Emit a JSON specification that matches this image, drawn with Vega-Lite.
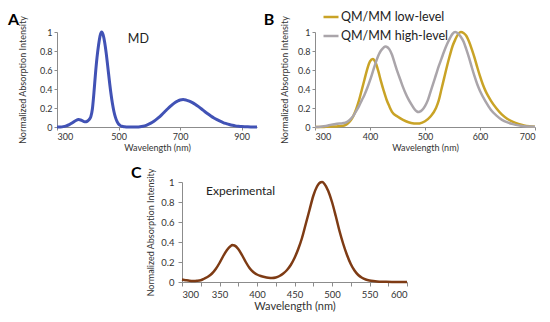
{
  "$schema": "https://vega.github.io/schema/vega-lite/v6.json",
  "background": "white",
  "padding": {"left": 8, "top": 8, "right": 4, "bottom": 4},
  "config": {
    "font": "Lato",
    "view": {"stroke": null},
    "axis": {"domainColor": "#8c8c8c", "tickColor": "#8c8c8c", "grid": false, "labelColor": "#333333", "titleColor": "#333333", "labelFont": "Lato", "titleFont": "Lato", "titleFontWeight": "normal", "tickSize": 3, "labelFontSize": 9, "titleFontSize": 9, "labelOverlap": false}
  },
  "datasets": {
    "md": [
      {"wl":300,"v":0},{"wl":310,"v":0.001},{"wl":320,"v":0.004},{"wl":330,"v":0.012},{"wl":340,"v":0.025},{"wl":350,"v":0.045},{"wl":360,"v":0.066},{"wl":370,"v":0.078},{"wl":380,"v":0.07},{"wl":390,"v":0.055},{"wl":395,"v":0.056},{"wl":400,"v":0.065},{"wl":405,"v":0.08},{"wl":410,"v":0.11},{"wl":415,"v":0.19},{"wl":420,"v":0.36},{"wl":425,"v":0.56},{"wl":430,"v":0.73},{"wl":435,"v":0.86},{"wl":440,"v":0.96},{"wl":445,"v":1.0},{"wl":450,"v":0.97},{"wl":455,"v":0.89},{"wl":460,"v":0.775},{"wl":465,"v":0.636},{"wl":470,"v":0.492},{"wl":475,"v":0.36},{"wl":480,"v":0.249},{"wl":485,"v":0.163},{"wl":490,"v":0.101},{"wl":495,"v":0.059},{"wl":500,"v":0.032},{"wl":505,"v":0.017},{"wl":510,"v":0.008},{"wl":520,"v":0.002},{"wl":530,"v":0},{"wl":540,"v":0},{"wl":550,"v":0},{"wl":560,"v":0},{"wl":570,"v":0.002},{"wl":580,"v":0.008},{"wl":590,"v":0.018},{"wl":600,"v":0.032},{"wl":610,"v":0.05},{"wl":620,"v":0.072},{"wl":630,"v":0.098},{"wl":640,"v":0.128},{"wl":650,"v":0.16},{"wl":660,"v":0.192},{"wl":670,"v":0.222},{"wl":680,"v":0.249},{"wl":690,"v":0.27},{"wl":700,"v":0.285},{"wl":710,"v":0.289},{"wl":720,"v":0.283},{"wl":730,"v":0.272},{"wl":740,"v":0.257},{"wl":750,"v":0.237},{"wl":760,"v":0.214},{"wl":770,"v":0.189},{"wl":780,"v":0.163},{"wl":790,"v":0.139},{"wl":800,"v":0.116},{"wl":810,"v":0.095},{"wl":820,"v":0.077},{"wl":830,"v":0.061},{"wl":840,"v":0.047},{"wl":850,"v":0.036},{"wl":860,"v":0.026},{"wl":870,"v":0.018},{"wl":880,"v":0.012},{"wl":890,"v":0.008},{"wl":900,"v":0.005},{"wl":910,"v":0.003},{"wl":920,"v":0.002},{"wl":930,"v":0.001},{"wl":940,"v":0},{"wl":950,"v":0}
    ],
    "qmmm": [
      {"level":"QM/MM low-level","wl":300,"v":0},{"level":"QM/MM low-level","wl":310,"v":0},{"level":"QM/MM low-level","wl":320,"v":0.002},{"level":"QM/MM low-level","wl":330,"v":0.004},{"level":"QM/MM low-level","wl":340,"v":0.006},{"level":"QM/MM low-level","wl":350,"v":0.012},{"level":"QM/MM low-level","wl":355,"v":0.02},{"level":"QM/MM low-level","wl":360,"v":0.04},{"level":"QM/MM low-level","wl":365,"v":0.07},{"level":"QM/MM low-level","wl":370,"v":0.12},{"level":"QM/MM low-level","wl":375,"v":0.19},{"level":"QM/MM low-level","wl":380,"v":0.28},{"level":"QM/MM low-level","wl":385,"v":0.39},{"level":"QM/MM low-level","wl":390,"v":0.5},{"level":"QM/MM low-level","wl":395,"v":0.61},{"level":"QM/MM low-level","wl":400,"v":0.69},{"level":"QM/MM low-level","wl":405,"v":0.715},{"level":"QM/MM low-level","wl":410,"v":0.68},{"level":"QM/MM low-level","wl":415,"v":0.59},{"level":"QM/MM low-level","wl":420,"v":0.48},{"level":"QM/MM low-level","wl":425,"v":0.38},{"level":"QM/MM low-level","wl":430,"v":0.29},{"level":"QM/MM low-level","wl":435,"v":0.22},{"level":"QM/MM low-level","wl":440,"v":0.16},{"level":"QM/MM low-level","wl":450,"v":0.11},{"level":"QM/MM low-level","wl":460,"v":0.075},{"level":"QM/MM low-level","wl":470,"v":0.05},{"level":"QM/MM low-level","wl":480,"v":0.038},{"level":"QM/MM low-level","wl":485,"v":0.036},{"level":"QM/MM low-level","wl":490,"v":0.038},{"level":"QM/MM low-level","wl":500,"v":0.06},{"level":"QM/MM low-level","wl":510,"v":0.11},{"level":"QM/MM low-level","wl":520,"v":0.2},{"level":"QM/MM low-level","wl":525,"v":0.28},{"level":"QM/MM low-level","wl":530,"v":0.4},{"level":"QM/MM low-level","wl":535,"v":0.52},{"level":"QM/MM low-level","wl":540,"v":0.64},{"level":"QM/MM low-level","wl":545,"v":0.75},{"level":"QM/MM low-level","wl":550,"v":0.85},{"level":"QM/MM low-level","wl":555,"v":0.92},{"level":"QM/MM low-level","wl":560,"v":0.975},{"level":"QM/MM low-level","wl":565,"v":1.0},{"level":"QM/MM low-level","wl":570,"v":0.99},{"level":"QM/MM low-level","wl":575,"v":0.96},{"level":"QM/MM low-level","wl":580,"v":0.9},{"level":"QM/MM low-level","wl":585,"v":0.82},{"level":"QM/MM low-level","wl":590,"v":0.73},{"level":"QM/MM low-level","wl":595,"v":0.63},{"level":"QM/MM low-level","wl":600,"v":0.535},{"level":"QM/MM low-level","wl":605,"v":0.45},{"level":"QM/MM low-level","wl":610,"v":0.38},{"level":"QM/MM low-level","wl":615,"v":0.325},{"level":"QM/MM low-level","wl":620,"v":0.275},{"level":"QM/MM low-level","wl":630,"v":0.195},{"level":"QM/MM low-level","wl":640,"v":0.13},{"level":"QM/MM low-level","wl":650,"v":0.085},{"level":"QM/MM low-level","wl":660,"v":0.055},{"level":"QM/MM low-level","wl":670,"v":0.033},{"level":"QM/MM low-level","wl":680,"v":0.017},{"level":"QM/MM low-level","wl":690,"v":0.008},{"level":"QM/MM low-level","wl":700,"v":0.003},
      {"level":"QM/MM high-level","wl":300,"v":0},{"level":"QM/MM high-level","wl":310,"v":0.003},{"level":"QM/MM high-level","wl":320,"v":0.01},{"level":"QM/MM high-level","wl":330,"v":0.025},{"level":"QM/MM high-level","wl":340,"v":0.035},{"level":"QM/MM high-level","wl":350,"v":0.04},{"level":"QM/MM high-level","wl":355,"v":0.045},{"level":"QM/MM high-level","wl":360,"v":0.06},{"level":"QM/MM high-level","wl":365,"v":0.085},{"level":"QM/MM high-level","wl":370,"v":0.12},{"level":"QM/MM high-level","wl":375,"v":0.17},{"level":"QM/MM high-level","wl":380,"v":0.22},{"level":"QM/MM high-level","wl":385,"v":0.28},{"level":"QM/MM high-level","wl":390,"v":0.34},{"level":"QM/MM high-level","wl":395,"v":0.41},{"level":"QM/MM high-level","wl":400,"v":0.49},{"level":"QM/MM high-level","wl":405,"v":0.58},{"level":"QM/MM high-level","wl":410,"v":0.67},{"level":"QM/MM high-level","wl":415,"v":0.75},{"level":"QM/MM high-level","wl":420,"v":0.805},{"level":"QM/MM high-level","wl":425,"v":0.838},{"level":"QM/MM high-level","wl":428,"v":0.847},{"level":"QM/MM high-level","wl":430,"v":0.845},{"level":"QM/MM high-level","wl":435,"v":0.82},{"level":"QM/MM high-level","wl":440,"v":0.76},{"level":"QM/MM high-level","wl":445,"v":0.67},{"level":"QM/MM high-level","wl":450,"v":0.58},{"level":"QM/MM high-level","wl":455,"v":0.5},{"level":"QM/MM high-level","wl":460,"v":0.42},{"level":"QM/MM high-level","wl":465,"v":0.35},{"level":"QM/MM high-level","wl":470,"v":0.29},{"level":"QM/MM high-level","wl":475,"v":0.24},{"level":"QM/MM high-level","wl":480,"v":0.195},{"level":"QM/MM high-level","wl":485,"v":0.165},{"level":"QM/MM high-level","wl":488,"v":0.158},{"level":"QM/MM high-level","wl":490,"v":0.16},{"level":"QM/MM high-level","wl":495,"v":0.18},{"level":"QM/MM high-level","wl":500,"v":0.22},{"level":"QM/MM high-level","wl":505,"v":0.28},{"level":"QM/MM high-level","wl":510,"v":0.37},{"level":"QM/MM high-level","wl":515,"v":0.46},{"level":"QM/MM high-level","wl":520,"v":0.55},{"level":"QM/MM high-level","wl":525,"v":0.64},{"level":"QM/MM high-level","wl":530,"v":0.72},{"level":"QM/MM high-level","wl":535,"v":0.8},{"level":"QM/MM high-level","wl":540,"v":0.87},{"level":"QM/MM high-level","wl":545,"v":0.93},{"level":"QM/MM high-level","wl":550,"v":0.98},{"level":"QM/MM high-level","wl":555,"v":1.0},{"level":"QM/MM high-level","wl":560,"v":0.985},{"level":"QM/MM high-level","wl":565,"v":0.95},{"level":"QM/MM high-level","wl":570,"v":0.9},{"level":"QM/MM high-level","wl":575,"v":0.82},{"level":"QM/MM high-level","wl":580,"v":0.73},{"level":"QM/MM high-level","wl":585,"v":0.63},{"level":"QM/MM high-level","wl":590,"v":0.535},{"level":"QM/MM high-level","wl":595,"v":0.45},{"level":"QM/MM high-level","wl":600,"v":0.38},{"level":"QM/MM high-level","wl":610,"v":0.27},{"level":"QM/MM high-level","wl":620,"v":0.18},{"level":"QM/MM high-level","wl":630,"v":0.12},{"level":"QM/MM high-level","wl":640,"v":0.075},{"level":"QM/MM high-level","wl":650,"v":0.048},{"level":"QM/MM high-level","wl":660,"v":0.03},{"level":"QM/MM high-level","wl":670,"v":0.017},{"level":"QM/MM high-level","wl":680,"v":0.009},{"level":"QM/MM high-level","wl":690,"v":0.004},{"level":"QM/MM high-level","wl":700,"v":0.002}
    ],
    "exp": [
      {"wl":300,"v":0.025},{"wl":305,"v":0.018},{"wl":310,"v":0.012},{"wl":315,"v":0.01},{"wl":320,"v":0.012},{"wl":325,"v":0.018},{"wl":330,"v":0.035},{"wl":335,"v":0.055},{"wl":340,"v":0.085},{"wl":345,"v":0.13},{"wl":350,"v":0.19},{"wl":355,"v":0.26},{"wl":360,"v":0.32},{"wl":365,"v":0.36},{"wl":367,"v":0.37},{"wl":370,"v":0.365},{"wl":375,"v":0.33},{"wl":380,"v":0.27},{"wl":385,"v":0.2},{"wl":390,"v":0.14},{"wl":395,"v":0.1},{"wl":400,"v":0.075},{"wl":405,"v":0.06},{"wl":410,"v":0.05},{"wl":415,"v":0.043},{"wl":420,"v":0.04},{"wl":425,"v":0.045},{"wl":430,"v":0.06},{"wl":435,"v":0.085},{"wl":440,"v":0.12},{"wl":445,"v":0.17},{"wl":450,"v":0.24},{"wl":455,"v":0.33},{"wl":460,"v":0.44},{"wl":465,"v":0.58},{"wl":470,"v":0.72},{"wl":475,"v":0.86},{"wl":480,"v":0.955},{"wl":485,"v":0.998},{"wl":487,"v":1.0},{"wl":490,"v":0.98},{"wl":495,"v":0.91},{"wl":500,"v":0.8},{"wl":505,"v":0.66},{"wl":510,"v":0.51},{"wl":515,"v":0.38},{"wl":520,"v":0.27},{"wl":525,"v":0.18},{"wl":530,"v":0.115},{"wl":535,"v":0.07},{"wl":540,"v":0.042},{"wl":545,"v":0.025},{"wl":550,"v":0.015},{"wl":555,"v":0.009},{"wl":560,"v":0.005},{"wl":570,"v":0.002},{"wl":580,"v":0},{"wl":590,"v":0},{"wl":600,"v":0}
    ],
    "one": [{"k": 1}]
  },
  "spacing": 13,
  "resolve": {"scale": {"color": "independent"}, "legend": {"color": "independent"}},
  "vconcat": [
    {
      "spacing": 0,
      "resolve": {"scale": {"color": "independent"}, "legend": {"color": "independent"}},
      "hconcat": [
        {
          "width": 200, "height": 95,
          "encoding": {
            "x": {"type": "quantitative", "scale": {"domain": [300, 950], "nice": false, "zero": false}, "axis": {"values": [300, 500, 700, 900], "title": "Wavelength (nm)", "labelPadding": 2, "titlePadding": 2}},
            "y": {"type": "quantitative", "scale": {"domain": [0, 1], "nice": false}, "axis": {"values": [0, 0.2, 0.4, 0.6, 0.8, 1], "format": "~g", "title": "Normalized Absorption Intensity", "labelPadding": 2, "titlePadding": 12}}
          },
          "layer": [
            {
              "data": {"name": "md"},
              "mark": {"type": "line", "color": "#4152b5", "strokeWidth": 3, "interpolate": "monotone"},
              "encoding": {"x": {"field": "wl"}, "y": {"field": "v"}}
            },
            {
              "data": {"name": "one"},
              "mark": {"type": "text", "align": "left", "baseline": "alphabetic", "fontSize": 12.5, "font": "Lato", "color": "#222222"},
              "encoding": {"x": {"datum": 530}, "y": {"datum": 0.88}, "text": {"value": "MD"}}
            },
            {
              "data": {"name": "one"},
              "mark": {"type": "text", "align": "left", "baseline": "alphabetic", "fontSize": 16, "fontWeight": "bold", "font": "Lato", "color": "#000000"},
              "encoding": {"x": {"datum": 141}, "y": {"datum": 1.074}, "text": {"value": "A"}}
            }
          ]
        },
        {
          "width": 220, "height": 95,
          "encoding": {
            "x": {"type": "quantitative", "scale": {"domain": [300, 700], "nice": false, "zero": false}, "axis": {"values": [300, 400, 500, 600, 700], "title": "Wavelength (nm)", "labelPadding": 2, "titlePadding": 2}},
            "y": {"type": "quantitative", "scale": {"domain": [0, 1], "nice": false}, "axis": {"values": [0, 0.2, 0.4, 0.6, 0.8, 1], "format": "~g", "title": "Normalized Absorption Intensity", "labelPadding": 2, "titlePadding": 8}}
          },
          "layer": [
            {
              "data": {"name": "qmmm"},
              "mark": {"type": "line", "strokeWidth": 2.5, "interpolate": "monotone"},
              "encoding": {
                "x": {"field": "wl"},
                "y": {"field": "v"},
                "color": {"field": "level", "type": "nominal", "sort": ["QM/MM low-level", "QM/MM high-level"], "scale": {"domain": ["QM/MM low-level", "QM/MM high-level"], "range": ["#c9a326", "#aaa5aa"]},
                  "legend": {"title": null, "orient": "none", "legendX": 7, "legendY": -24, "symbolType": "stroke", "symbolStrokeWidth": 2.5, "symbolSize": 225, "labelFontSize": 12.5, "labelFont": "Lato", "labelColor": "#222222", "rowPadding": 3, "padding": 0, "labelOffset": 1}}
              }
            },
            {
              "data": {"name": "one"},
              "mark": {"type": "text", "align": "left", "baseline": "alphabetic", "fontSize": 16, "fontWeight": "bold", "font": "Lato", "color": "#000000"},
              "encoding": {"x": {"datum": 207}, "y": {"datum": 1.074}, "text": {"value": "B"}}
            }
          ]
        }
      ]
    },
    {
      "spacing": 10,
      "hconcat": [
        {
          "width": 64, "height": 100,
          "data": {"name": "one"},
          "mark": {"type": "point", "opacity": 0},
          "encoding": {}
        },
        {
          "width": 225, "height": 100,
          "encoding": {
            "x": {"type": "quantitative", "scale": {"domain": [300, 600], "nice": false, "zero": false}, "axis": {"values": [300, 325, 350, 375, 400, 425, 450, 475, 500, 525, 550, 575, 600], "labelExpr": "datum.value % 50 == 0 ? datum.label : ''", "title": "Wavelength (nm)", "labelFontSize": 9.5, "titleFontSize": 11, "labelPadding": 3, "titlePadding": 2, "tickSize": 4}},
            "y": {"type": "quantitative", "scale": {"domain": [0, 1], "nice": false}, "axis": {"values": [0, 0.2, 0.4, 0.6, 0.8, 1], "format": "~g", "title": "Normalized Absorption Intensity", "labelFontSize": 9.5, "labelPadding": 4, "titlePadding": 5, "tickSize": 4}}
          },
          "layer": [
            {
              "data": {"name": "exp"},
              "mark": {"type": "line", "color": "#7e3b14", "strokeWidth": 2.5, "interpolate": "monotone"},
              "encoding": {"x": {"field": "wl"}, "y": {"field": "v"}}
            },
            {
              "data": {"name": "one"},
              "mark": {"type": "text", "align": "left", "baseline": "alphabetic", "fontSize": 12, "font": "Lato", "color": "#222222"},
              "encoding": {"x": {"datum": 332}, "y": {"datum": 0.87}, "text": {"value": "Experimental"}}
            },
            {
              "data": {"name": "one"},
              "mark": {"type": "text", "align": "left", "baseline": "alphabetic", "fontSize": 16, "fontWeight": "bold", "font": "Lato", "color": "#000000"},
              "encoding": {"x": {"datum": 232}, "y": {"datum": 1.037}, "text": {"value": "C"}}
            }
          ]
        }
      ]
    }
  ]
}
